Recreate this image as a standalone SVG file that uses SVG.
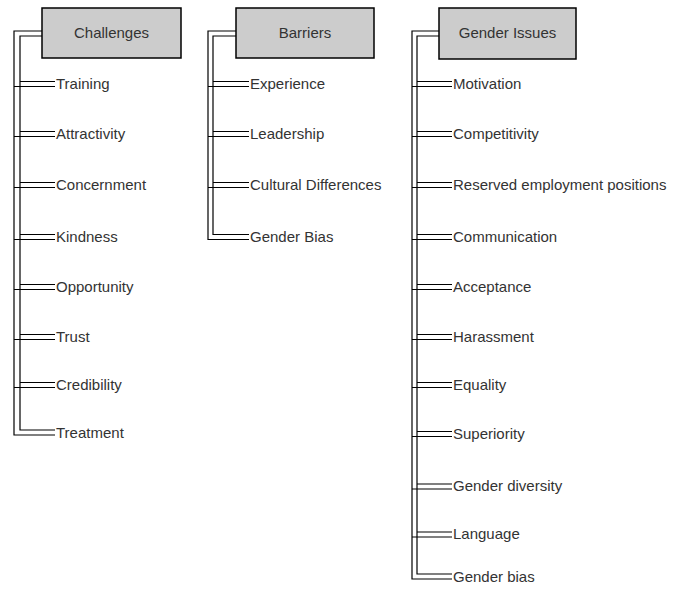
<svg xmlns="http://www.w3.org/2000/svg" width="680" height="590" viewBox="0 0 680 590">
<style>
.box{fill:#cccccc;stroke:#000;stroke-width:1.5}
.hd{font-family:"Liberation Sans",Arial,sans-serif;font-size:15px;fill:#333;text-anchor:middle}
.it{font-family:"Liberation Sans",Arial,sans-serif;font-size:15px;fill:#333}
.ln{fill:none;stroke:#000;stroke-width:1.2}
</style>
<rect width="680" height="590" fill="#fff"/>
<g id="connectors" class="ln">
<path d="M42,31H14V435H55M42,36H20V430H55"/>
<path d="M20,81.5H55M14,86.5H55M20,131.5H55M14,136.5H55M20,182.5H55M14,187.5H55M20,234.5H55M14,239.5H55M20,284.5H55M14,289.5H55M20,334.5H55M14,339.5H55M20,382.5H55M14,387.5H55"/>
<path d="M236,31H208V239.5H249M236,36H213V234.5H249"/>
<path d="M213,81.5H249M208,86.5H249M213,131.5H249M208,136.5H249M213,182.5H249M208,187.5H249"/>
<path d="M439,31H412V579H452M439,36H417V574H452"/>
<path d="M417,81.5H452M412,86.5H452M417,131.5H452M412,136.5H452M417,182.5H452M412,187.5H452M417,234.5H452M412,239.5H452M417,284.5H452M412,289.5H452M417,334.5H452M412,339.5H452M417,382.5H452M412,387.5H452M417,431.5H452M412,436.5H452M417,484H452M412,489H452M417,532H452M412,537H452"/>
</g>
<g id="challenges"><rect class="box" x="42" y="8" width="139" height="50"/><text class="hd" x="111.5" y="38">Challenges</text></g>
<g id="barriers"><rect class="box" x="236" y="8" width="138" height="50"/><text class="hd" x="305" y="38">Barriers</text></g>
<g id="gender-issues"><rect class="box" x="439" y="8" width="137" height="51"/><text class="hd" x="507.5" y="38">Gender Issues</text></g>
<g id="c-items" class="it">
<text x="56" y="89">Training</text>
<text x="56" y="139">Attractivity</text>
<text x="56" y="190">Concernment</text>
<text x="56" y="242">Kindness</text>
<text x="56" y="292">Opportunity</text>
<text x="56" y="342">Trust</text>
<text x="56" y="390">Credibility</text>
<text x="56" y="438">Treatment</text>
</g>
<g id="b-items" class="it">
<text x="250" y="89">Experience</text>
<text x="250" y="139">Leadership</text>
<text x="250" y="190">Cultural Differences</text>
<text x="250" y="242">Gender Bias</text>
</g>
<g id="g-items" class="it">
<text x="453" y="89">Motivation</text>
<text x="453" y="139">Competitivity</text>
<text x="453" y="190">Reserved employment positions</text>
<text x="453" y="242">Communication</text>
<text x="453" y="292">Acceptance</text>
<text x="453" y="342">Harassment</text>
<text x="453" y="390">Equality</text>
<text x="453" y="439">Superiority</text>
<text x="453" y="491">Gender diversity</text>
<text x="453" y="539">Language</text>
<text x="453" y="582">Gender bias</text>
</g>
</svg>
